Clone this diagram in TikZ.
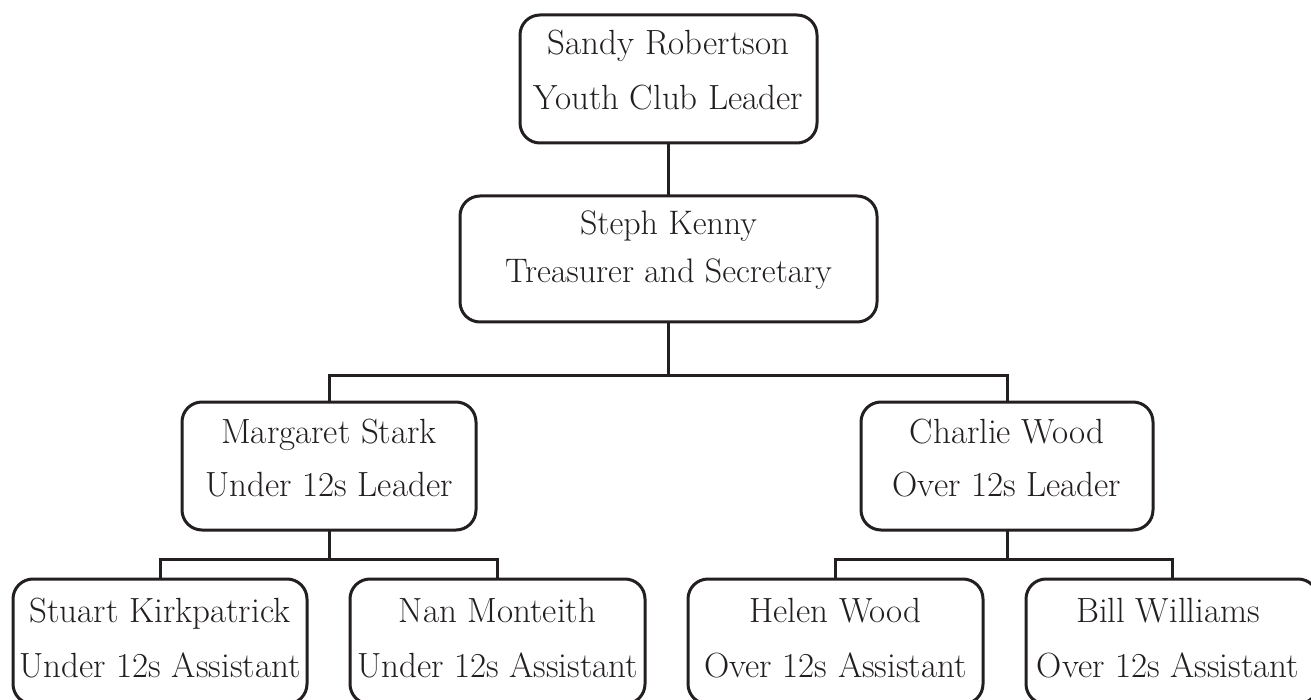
\documentclass[tikz,border=0pt]{standalone}
\usepackage{fontspec}
\usetikzlibrary{calc}
\definecolor{ink}{HTML}{231F20}
\tikzset{
  box/.style={draw=ink, line width=3pt, rounded corners=20pt, inner sep=0pt, outer sep=0pt, fill=white},
  link/.style={draw=ink, line width=3pt},
  txt/.style={text=ink, font=\fontsize{35}{40}\selectfont, inner sep=0pt, anchor=base},
  txts/.style={text=ink, font=\fontsize{34}{39}\selectfont, inner sep=0pt, anchor=base}
}
\begin{document}
\begin{tikzpicture}[x=1pt,y=-1pt]
\useasboundingbox (0,0) rectangle (1311,700);
% boxes
\node[box, minimum width=297pt, minimum height=128pt] (top) at (668.5,79) {};
\node[box, minimum width=417pt, minimum height=126pt] (steph) at (668.5,259) {};
\node[box, minimum width=294pt, minimum height=128pt] (marg) at (329,466) {};
\node[box, minimum width=292pt, minimum height=128pt] (charlie) at (1007,466) {};
\node[box, minimum width=294pt, minimum height=125pt] (stuart) at (160,641.5) {};
\node[box, minimum width=295pt, minimum height=125pt] (nan) at (497.5,641.5) {};
\node[box, minimum width=295pt, minimum height=125pt] (helen) at (835.5,641.5) {};
\node[box, minimum width=292pt, minimum height=125pt] (bill) at (1172,641.5) {};
% junctions
\coordinate (j1) at (668.5,375);
\coordinate (j2) at (329,559);
\coordinate (j3) at (1007,559);
% connectors
\draw[link] (top.south) -- (steph.north);
\draw[link] (steph.south) -- (j1);
\draw[link] (marg.north) |- (j1) -| (charlie.north);
\draw[link] (marg.south) -- (j2);
\draw[link] (stuart.north) |- (j2) -| (nan.north);
\draw[link] (charlie.south) -- (j3);
\draw[link] (helen.north) |- (j3) -| (bill.north);
% texts
\node[txt] (t1a) at ($(top.north)+(0,40)$) {Sandy Robertson};
\node[txt] (t1b) at ($(top.north)+(0,95)$) {Youth Club Leader};
\node[txts] (t2a) at ($(steph.north)+(0,39)$) {Steph Kenny};
\node[txts] (t2b) at ($(steph.north)+(0,87)$) {Treasurer and Secretary};
\node[txt] (t3a) at ($(marg.north)+(0,41)$) {Margaret Stark};
\node[txt] (t3b) at ($(marg.north)+(0,94)$) {Under 12s Leader};
\node[txt] (t4a) at ($(charlie.north)+(0,41)$) {Charlie Wood};
\node[txt] (t4b) at ($(charlie.north)+(0,94)$) {Over 12s Leader};
\node[txt] (t5a) at ($(stuart.north)+(0,43)$) {Stuart Kirkpatrick};
\node[txt] (t5b) at ($(stuart.north)+(0,98)$) {Under 12s Assistant};
\node[txt] (t6a) at ($(nan.north)+(0,43)$) {Nan Monteith};
\node[txt] (t6b) at ($(nan.north)+(0,98)$) {Under 12s Assistant};
\node[txt] (t7a) at ($(helen.north)+(0,43)$) {Helen Wood};
\node[txt] (t7b) at ($(helen.north)+(0,98)$) {Over 12s Assistant};
\node[txt] (t8a) at ($(bill.north)+(-4,43)$) {Bill Williams};
\node[txt] (t8b) at ($(bill.north)+(-4,98)$) {Over 12s Assistant};
\end{tikzpicture}
\end{document}
